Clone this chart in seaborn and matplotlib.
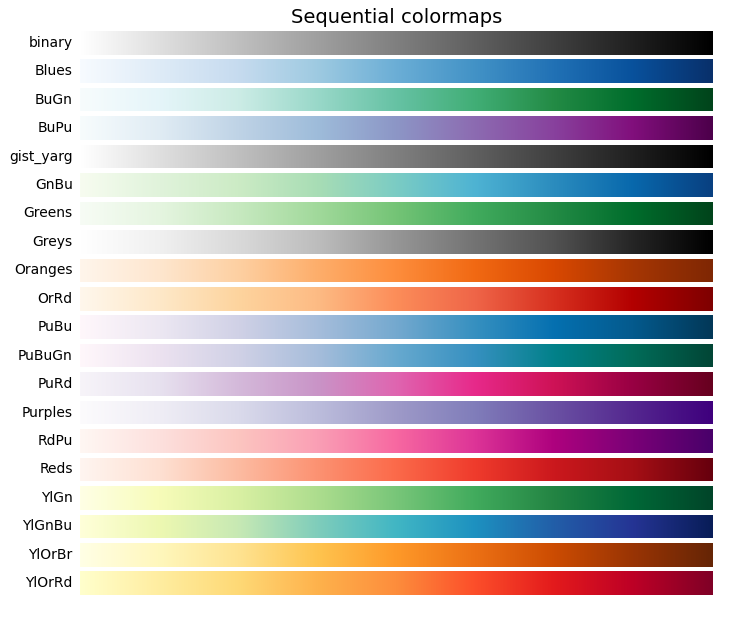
import numpy as np
import matplotlib
matplotlib.use("Agg")
import matplotlib.pyplot as plt
import seaborn as sns

cmap_names = ["binary", "Blues", "BuGn", "BuPu", "gist_yarg", "GnBu", "Greens", "Greys",
              "Oranges", "OrRd", "PuBu", "PuBuGn", "PuRd", "Purples", "RdPu", "Reds",
              "YlGn", "YlGnBu", "YlOrBr", "YlOrRd"]
title = "Sequential colormaps"

gradient = np.linspace(0, 1, 256)
gradient = np.vstack((gradient, gradient))

fig, axes = plt.subplots(nrows=len(cmap_names), figsize=(7.32, 6.39), dpi=100)
fig.subplots_adjust(top=1 - 31 / 639, bottom=1 - 595 / 639, left=80 / 732, right=713 / 732, hspace=0.21)
axes[0].set_title(title, fontsize=14)

for ax, name in zip(axes, cmap_names):
	cmap = sns.color_palette(name, as_cmap=True) if name not in ("binary", "gist_yarg") else plt.get_cmap(name)
	ax.imshow(gradient, aspect="auto", cmap=cmap)
	pos = list(ax.get_position().bounds)
	x_text = pos[0] - 0.01
	y_text = pos[1] + pos[3] / 2.
	fig.text(x_text, y_text, name, va="center", ha="right", fontsize=10)
	ax.set_axis_off()

plt.savefig("out.png")
